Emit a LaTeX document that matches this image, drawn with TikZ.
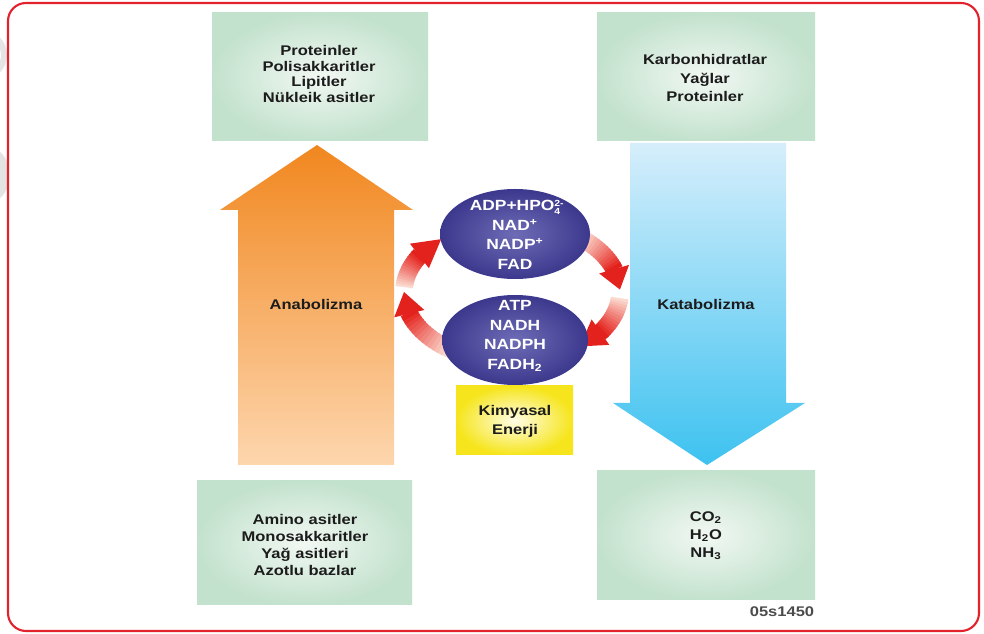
\documentclass[tikz,border=0pt]{standalone}
\usepackage{fontspec}
\setmainfont{Liberation Sans}[FakeStretch=1.18]
\usetikzlibrary{shapes.geometric,calc}
\definecolor{borderred}{HTML}{E2222C}
\definecolor{boxgreen}{HTML}{C3E2CD}
\definecolor{boxlight}{HTML}{F2F8F3}
\definecolor{orangetop}{HTML}{F1871F}
\definecolor{orangebot}{HTML}{FDD6AE}
\definecolor{bluetop}{HTML}{D6EEFB}
\definecolor{bluebot}{HTML}{3DC2F0}
\definecolor{elldark}{HTML}{3C388D}
\definecolor{elllight}{HTML}{6E6CB6}
\definecolor{arrred}{HTML}{E4221D}
\definecolor{arrpink}{HTML}{FBD9CE}
\definecolor{yelbox}{HTML}{F6E51C}
\definecolor{yellight}{HTML}{FFFDE6}
\definecolor{txt}{HTML}{1C1C1C}
\tikzset{
  greenbox/.style={inner color=boxlight, outer color=boxgreen},
  lbl/.style={font=\bfseries\fontsize{7.97pt}{#1}\selectfont, align=center, text=txt, inner sep=0pt},
  lbl/.default={9.1pt},
  elltxt/.style={font=\bfseries\fontsize{8.4pt}{11.1pt}\selectfont, align=center, text=white, inner sep=0pt},
}
% cycle arrow on the ellipse centred at (512,292), radii 108 x 70
% #1 start angle, #2 head base angle, #3 tip angle, #4 name
\newcommand\cycarrow[4]{%
  \foreach \i in {0,...,13}{%
    \pgfmathsetmacro\sa{#1+(#2-#1)*\i/14}%
    \pgfmathsetmacro\ea{#1+(#2-#1)*(\i+1.4)/14}%
    \pgfmathtruncatemacro\pc{100*\i/13}%
    \draw[line width=0.35cm, color=arrred!\pc!arrpink]
      plot[domain=\sa:\ea, samples=4, variable=\t] ({512+108*cos(\t)},{292+70*sin(\t)});
  }%
  \coordinate (#4tip) at ({512+108*cos(#3)},{292+70*sin(#3)});
  \coordinate (#4base) at ({512+108*cos(#2)},{292+70*sin(#2)});
  \fill[arrred] (#4tip) -- ($(#4base)!0.31cm!90:(#4tip)$) -- ($(#4base)!0.31cm!-90:(#4tip)$) -- cycle;
}
\begin{document}
\begin{tikzpicture}[x=0.02cm,y=-0.02cm]
\useasboundingbox (0,0) rectangle (984,634);
\fill[white] (0,0) rectangle (984,634);
% faint watermark outside the frame
\begin{scope}
  \clip (0,0) rectangle (7,634);
  \draw[gray!20, line width=0.12cm] (-18,55) circle[radius=22];
  \fill[gray!22] (-22,175) circle[radius=32];
\end{scope}
% frame
\draw[borderred, line width=1.2pt, rounded corners=0.36cm] (8,3) rectangle (979,631);

% green boxes
\shade[greenbox] (212,13) rectangle (428,141);
\shade[greenbox] (597,13) rectangle (815,141);
\shade[greenbox] (197,481) rectangle (412,605);
\shade[greenbox] (597,471) rectangle (815,600);
\node[lbl] (tl) at (319,74) {Proteinler\\Polisakkaritler\\Lipitler\\Nükleik asitler};
\node[lbl=10.8pt] (tr) at (705,78) {Karbonhidratlar\\Yağlar\\Proteinler};
\node[lbl=9.7pt] (bl) at (305,545) {Amino asitler\\Monosakkaritler\\Yağ asitleri\\Azotlu bazlar};
\node[lbl=10.2pt] (br) at (706,536) {CO\textsubscript{2}\\H\textsubscript{2}O\\NH\textsubscript{3}};

% big arrows
\shade[top color=orangetop, bottom color=orangebot]
  (238,465) -- (238,210) -- (220,210) -- (317,145) -- (413,210) -- (394,210) -- (394,465) -- cycle;
\shade[top color=bluetop, bottom color=bluebot]
  (630,143) -- (786,143) -- (786,403) -- (805,403) -- (707,465) -- (613,403) -- (630,403) -- cycle;
\node[lbl] (ana) at (316,304) {Anabolizma};
\node[lbl] (kata) at (706,304) {Katabolizma};

% red cycle arrows
\cycarrow{184}{211}{229}{ul}
\cycarrow{125}{162}{180}{ll}
\cycarrow{5}{35}{51}{lr}
\cycarrow{-50}{-19}{-2}{ur}

% ellipses
\shade[inner color=elllight, outer color=elldark] (515,234) ellipse[x radius=75, y radius=45];
\shade[inner color=elllight, outer color=elldark] (515,340) ellipse[x radius=73, y radius=45];
\node[elltxt] (e1) at (515,235) {ADP+HPO\rlap{\raisebox{0.5ex}{\scalebox{0.6}{2-}}}\raisebox{-0.45ex}{\scalebox{0.6}{4}}\\NAD\textsuperscript{+}\\NADP\textsuperscript{+}\\FAD};
\node[elltxt] (e2) at (515,336) {ATP\\NADH\\NADPH\\FADH\textsubscript{2}};

% yellow box
\shade[inner color=yellight, outer color=yelbox] (456,386) rectangle (573,455);
\node[lbl=10.8pt] (en) at (515,421) {Kimyasal\\Enerji};

% code
\node[font=\bfseries\fontsize{7.97pt}{9pt}\selectfont, text=black!70, inner sep=0pt] (code) at (782,612) {05s1450};
\end{tikzpicture}
\end{document}
